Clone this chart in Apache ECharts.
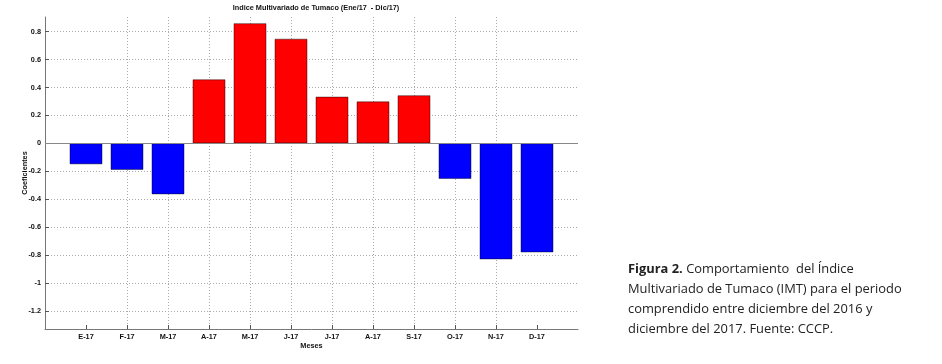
<!DOCTYPE html>
<html><head><meta charset="utf-8">
<script src="https://cdn.jsdelivr.net/npm/echarts@6/dist/echarts.min.js"></script>
<style>html,body{margin:0;padding:0;background:#fff}#c{width:942px;height:364px}</style>
</head><body><div id="c"></div>
<script>
const categories = ['E-17','F-17','M-17','A-17','M-17','J-17','J-17','A-17','S-17','O-17','N-17','D-17'];
const coeficientes = [-0.15, -0.19, -0.365, 0.458, 0.86, 0.749, 0.334, 0.30, 0.344, -0.254, -0.831, -0.781];
const yMin = -1.33, yMax = 0.905;
const titleText = 'Indice Multivariado de Tumaco (Ene/17  - Dic/17)';
const captionLines = ['{b|Figura 2.} Comportamiento  del Índice', 'Multivariado de Tumaco (IMT) para el periodo', 'comprendido entre diciembre del 2016 y', 'diciembre del 2017. Fuente: CCCP.'];

const axisCats = [''].concat(categories, ['']);
const axisVals = [null].concat(coeficientes, [null]);
const F = '"Liberation Sans", Arial, sans-serif';
const inner = (i) => i > 0 && i < axisCats.length - 1;

const chart = echarts.init(document.getElementById('c'), null, {renderer: 'canvas'});
chart.setOption({
  animation: false,
  backgroundColor: '#fff',
  title: [{
    text: titleText, left: 311, top: -1, textAlign: 'center',
    textStyle: {fontFamily: F, fontSize: 7.3, fontWeight: 'bold', color: '#111'}
  }, {
    text: captionLines.join('\n'), left: 623, top: 254,
    textStyle: {fontFamily: '"Open Sans", sans-serif', fontSize: 12.9, fontWeight: 'normal', color: '#222', lineHeight: 20,
      rich: {b: {fontFamily: '"Open Sans", sans-serif', fontSize: 12.9, fontWeight: 'bold', color: '#222', lineHeight: 20}}}
  }],
  grid: {left: 45, right: 364, top: 17, bottom: 35, containLabel: false},
  xAxis: {
    type: 'category', data: axisCats, boundaryGap: false,
    name: 'Meses', nameLocation: 'middle', nameGap: 13, nameMoveOverlap: false,
    nameTextStyle: {fontFamily: F, fontSize: 7.3, fontWeight: 'bold', color: '#111'},
    axisLine: {show: true, onZero: false, lineStyle: {color: '#777', width: 1}},
    axisTick: {show: true, inside: true, length: 4, interval: (i) => inner(i), lineStyle: {color: '#555'}},
    axisLabel: {fontFamily: F, fontSize: 7.3, fontWeight: 'bold', color: '#111', margin: 4, interval: 0},
    splitLine: {show: true, interval: (i) => inner(i), showMinLine: false, showMaxLine: false,
      lineStyle: {color: '#aaa', type: [1, 2], width: 1}}
  },
  yAxis: {
    type: 'value', min: yMin, max: yMax, splitNumber: 11,
    name: 'Coeficientes', nameLocation: 'middle', nameGap: 17, nameRotate: 90, nameMoveOverlap: false,
    nameTextStyle: {fontFamily: F, fontSize: 7.3, fontWeight: 'bold', color: '#111'},
    axisLine: {show: true, lineStyle: {color: '#777', width: 1}},
    axisTick: {show: true, inside: true, length: 4, lineStyle: {color: '#555'}},
    axisLabel: {fontFamily: F, fontSize: 7.3, fontWeight: 'bold', color: '#111', margin: 4,
      showMinLabel: false, showMaxLabel: false,
      formatter: (v) => Math.abs(v) < 1e-9 ? '0' : String(+v.toFixed(1))},
    splitLine: {show: true, showMinLine: false, showMaxLine: false, lineStyle: {color: '#aaa', type: [1, 2], width: 1}}
  },
  series: [{
    type: 'bar', data: axisVals, barWidth: '80%',
    itemStyle: {color: (p) => p.value >= 0 ? '#ff0000' : '#0000ff', borderColor: 'rgba(0,0,0,0.55)', borderWidth: 0.8},
    markLine: {silent: true, symbol: 'none', label: {show: false},
      lineStyle: {color: '#888', type: 'solid', width: 1},
      data: [{yAxis: 0}]}
  }]
});
</script></body></html>
